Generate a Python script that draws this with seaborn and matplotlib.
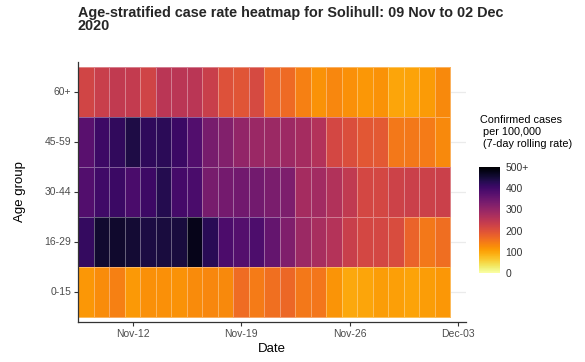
import numpy as np
import pandas as pd
import seaborn as sns
import matplotlib.pyplot as plt

# dates and age groups (top row first, as drawn)
dates = pd.date_range("2020-11-09", "2020-12-02", freq="D")
age_groups = ["60+", "45-59", "30-44", "16-29", "0-15"]

# 7-day rolling case rate per 100,000 (capped at 500)
rate_60plus = [220, 232, 242, 240, 222, 250, 250, 250, 232, 200, 195, 212,
               170, 165, 140, 120, 132, 122, 115, 120, 100, 102, 110, 130]
rate_45_59 = [372, 405, 418, 440, 420, 425, 408, 380, 335, 322, 302, 292,
              290, 288, 278, 260, 215, 205, 190, 188, 150, 150, 145, 130]
rate_30_44 = [380, 402, 408, 390, 406, 433, 395, 390, 335, 338, 342, 340,
              332, 328, 278, 282, 263, 243, 215, 215, 225, 230, 228, 230]
rate_16_29 = [415, 458, 460, 455, 443, 446, 447, 478, 427, 388, 378, 385,
              358, 325, 290, 275, 258, 232, 215, 215, 208, 175, 150, 162]
rate_0_15 = [115, 125, 140, 112, 123, 123, 120, 127, 132, 130, 163, 145,
             160, 168, 150, 152, 118, 97, 100, 108, 106, 102, 108, 115]

xtick_dates = ["2020-11-12", "2020-11-19", "2020-11-26", "2020-12-03"]
xtick_labels = ["Nov-12", "Nov-19", "Nov-26", "Dec-03"]
cbar_ticks = [0, 100, 200, 300, 400, 500]
cbar_labels = ["0", "100", "200", "300", "400", "500+"]

df = pd.DataFrame([rate_60plus, rate_45_59, rate_30_44, rate_16_29, rate_0_15],
                  index=age_groups, columns=dates)

sns.set_style("white")
plt.rcParams["font.family"] = ["Liberation Sans", "DejaVu Sans"]

fig = plt.figure(figsize=(5.85, 3.62), dpi=100)
ax = fig.add_axes([78 / 585, 1 - 322 / 362, 388 / 585, 260 / 362])
cax = fig.add_axes([479 / 585, 1 - 273 / 362, 21 / 585, 106 / 362])

ax.set_axisbelow(True)
ax.grid(axis="y", color="#ebebeb", lw=0.9, zorder=0)

sns.heatmap(df, ax=ax, cbar_ax=cax, cmap="inferno_r", vmin=0, vmax=500,
            linewidths=0.6, linecolor=(1, 1, 1, 0.35),
            cbar_kws={"ticks": cbar_ticks})

# date ticks sit at the middle of the day cell (days counted from 09 Nov)
tick_pos = [(pd.Timestamp(d) - dates[0]).days + 0.5 for d in xtick_dates]
ax.set_xticks(tick_pos)
ax.set_xticklabels(xtick_labels, rotation=0)
ax.set_yticks(np.arange(len(age_groups)) + 0.5)
ax.set_yticklabels(age_groups, rotation=0)
ax.set_xlim(-0.03, 25.0)
ax.set_ylim(5.1, -0.1)

for side in ["left", "bottom"]:
    ax.spines[side].set_visible(True)
    ax.spines[side].set_color("#333333")
    ax.spines[side].set_linewidth(0.9)
ax.spines["top"].set_visible(False)
ax.spines["right"].set_visible(False)
ax.tick_params(axis="both", which="major", length=3, width=0.8, color="#333333",
               labelsize=7.5, labelcolor="#4d4d4d", pad=2, bottom=True, left=True)

ax.set_xlabel("Date", fontsize=9.5, color="black", labelpad=3)
ax.set_ylabel("Age group", fontsize=9.5, color="black", labelpad=13)

fig.text(78 / 585, 1 - 6 / 362,
         "Age-stratified case rate heatmap for Solihull: 09 Nov to 02 Dec\n2020",
         fontsize=10.4, fontweight="bold", ha="left", va="top", linespacing=0.88)

# colorbar styling
cax.set_yticklabels(cbar_labels)
cax.tick_params(axis="y", direction="in", length=3, width=0.6, color="white",
                labelsize=7.5, labelcolor="#333333", pad=4, left=True, right=True)
for sp in cax.spines.values():
    sp.set_visible(False)

fig.text(480 / 585, 1 - 132 / 362,
         "Confirmed cases\n per 100,000\n (7-day rolling rate)",
         fontsize=7.8, color="black", ha="left", va="center", linespacing=1.3)

plt.savefig("out.png", dpi=100)
